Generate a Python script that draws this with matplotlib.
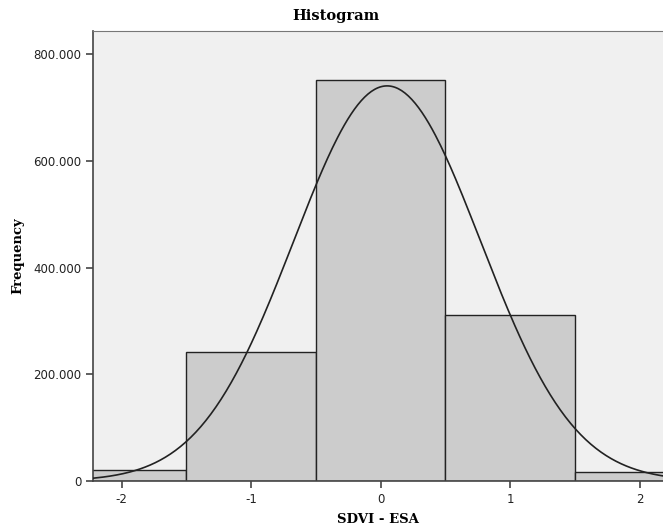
import numpy as np
from matplotlib import pyplot as plt
from matplotlib.ticker import FuncFormatter

plt.rcParams['axes.unicode_minus'] = False

# bin edges and counts
bin_left = [-2.5, -1.5, -0.5, 0.5, 1.5]
counts = [20, 241, 751, 311, 17]
bin_width = 1.0

# fitted normal curve (SPSS overlay)
curve_mean = 0.05
curve_std = 0.722
n_total = sum(counts)

xticks = [-2, -1, 0, 1, 2]
yticks = [0, 200, 400, 600, 800]

fig = plt.figure(figsize=(6.63, 5.28), dpi=100)
ax = fig.add_axes([0.1403, 0.089, 0.8597, 0.852])
ax.set_facecolor('#F0F0F0')

ax.bar(bin_left, counts, width=bin_width, align='edge',
       color='#CCCCCC', edgecolor='#222222', linewidth=1.0, zorder=2)

xs = np.linspace(-2.6, 2.6, 400)
ys = n_total * bin_width / (curve_std * np.sqrt(2 * np.pi)) * \
    np.exp(-0.5 * ((xs - curve_mean) / curve_std) ** 2)
ax.plot(xs, ys, color='#222222', linewidth=1.2, zorder=3)

ax.set_xlim(-2.22, 2.18)
ax.set_ylim(0, 843)
ax.set_xticks(xticks)
ax.set_yticks(yticks)
ax.yaxis.set_major_formatter(FuncFormatter(lambda v, p: '0' if v == 0 else f'{v:.3f}'))

for s in ['left', 'bottom']:
    ax.spines[s].set_color('#444444')
    ax.spines[s].set_linewidth(1.2)
ax.spines['top'].set_color('#777777')
ax.spines['right'].set_visible(False)
ax.tick_params(axis='both', direction='out', length=5, width=1.2,
               color='#444444', labelsize=8.5, labelcolor='#222222')

# SPSS centres the title on the full chart, not the clipped axes
fig.text(0.507, 0.970, 'Histogram', family='DejaVu Serif', weight='bold',
         fontsize=10.5, ha='center', va='center')
ax.set_xlabel('SDVI - ESA', fontfamily='DejaVu Serif', fontweight='bold',
              fontsize=9.5, labelpad=5)
ax.set_ylabel('Frequency', fontfamily='DejaVu Serif', fontweight='bold',
              fontsize=9.5, labelpad=6)

fig.savefig('out.png', dpi=100)
